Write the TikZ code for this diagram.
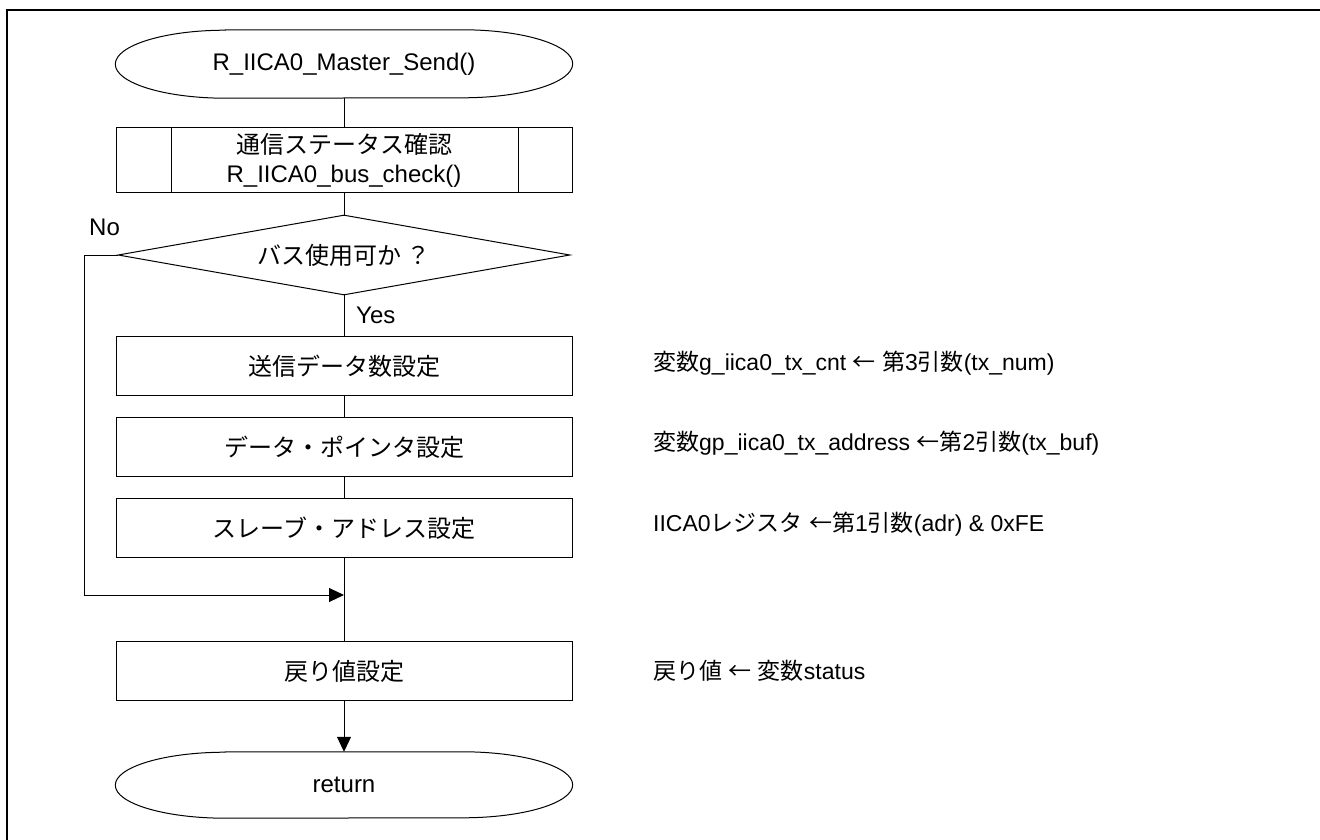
\documentclass[tikz,border=0pt]{standalone}
\usepackage{fontspec}
\setmainfont{Liberation Sans}
\newfontfamily\jpfont{Noto Sans CJK JP}
\usepackage{tikz}
\usetikzlibrary{positioning,arrows.meta,shapes.geometric}
\tikzset{
  every node/.style={font=\fontsize{24}{29}\selectfont},
  flow/.style   ={line width=1pt},
  arr/.style    ={flow, -{Triangle[length=15pt,width=14pt]}},
  term/.style   ={minimum width=457, minimum height=68, inner sep=0pt},
  proc/.style   ={draw, flow, minimum width=456, minimum height=59, inner sep=0pt},
  subproc/.style={proc, minimum height=65, align=center},
  decide/.style ={diamond, draw, flow, aspect=5.6, minimum width=452, minimum height=80, inner sep=0pt},
  note/.style   ={anchor=west, inner sep=0pt, font=\fontsize{23}{28}\selectfont},
}
% terminal outline with elliptic ends
\newcommand{\termline}[2]{%
  \draw[flow] ([xshift=110pt]#1.north west) -- ([xshift=-110pt]#1.north east)
    arc[start angle=90, end angle=-90, x radius=110pt, y radius=#2pt]
    -- ([xshift=110pt]#1.south west)
    arc[start angle=270, end angle=90, x radius=110pt, y radius=#2pt] -- cycle;}

\begin{document}
\begin{tikzpicture}[x=1pt,y=1pt]
  \useasboundingbox (0,0) rectangle (1320,-840);
  \draw[line width=2pt] (7,-10) rectangle (1340,-860);

  % main column
  \node[term] (st) at (344,-64) {R\_IICA0\_Master\_Send()};
  \termline{st}{34}
  \node[subproc] (chk) at (344,-160) {{\jpfont 通信ステータス確認}\\R\_IICA0\_bus\_check()};
  \draw[flow] ([xshift=56pt]chk.north west) -- ([xshift=56pt]chk.south west);
  \draw[flow] ([xshift=-54pt]chk.north east) -- ([xshift=-54pt]chk.south east);
  \node[decide] (bus) at (344,-255) {\jpfont バス使用可か ？};
  \node[proc] (cnt) at (344,-366) {\jpfont 送信データ数設定};
  \node[proc] (ptr) at (344,-447) {\jpfont データ・ポインタ設定};
  \node[proc] (adr) at (344,-528) {\jpfont スレーブ・アドレス設定};
  \coordinate (join) at (344,-595);
  \node[proc] (ret) at (344,-671) {\jpfont 戻り値設定};
  \node[term, minimum height=66] (end) at (344,-785) {return};
  \termline{end}{33}

  % branch labels
  \node[anchor=south west, inner sep=0pt] (no) at (89,-236) {No};
  \node[note, font=\fontsize{24}{29}\selectfont] (yes) at (356,-315) {Yes};

  % connectors
  \draw[flow] (st) -- (chk);
  \draw[flow] (chk) -- (bus);
  \draw[flow] (bus) -- (cnt);
  \draw[flow] (cnt) -- (ptr);
  \draw[flow] (ptr) -- (adr);
  \draw[flow] (adr) -- (ret);
  \draw[arr] (bus.west) -- ++(-33,0) |- (join);
  \draw[arr] (ret) -- (end);

  % notes
  \node[note] (n1) at (653,-363) {{\jpfont 変数}g\_iica0\_tx\_cnt {\jpfont ←} {\jpfont 第}3{\jpfont 引数}(tx\_num)};
  \node[note] (n2) at (653,-443) {{\jpfont 変数}gp\_iica0\_tx\_address {\jpfont ←第}2{\jpfont 引数}(tx\_buf)};
  \node[note] (n3) at (653,-524) {IICA0{\jpfont レジスタ} {\jpfont ←第}1{\jpfont 引数}(adr) \& 0xFE};
  \node[note] (n4) at (653,-671) {{\jpfont 戻り値} {\jpfont ←} {\jpfont 変数}status};
\end{tikzpicture}
\end{document}
